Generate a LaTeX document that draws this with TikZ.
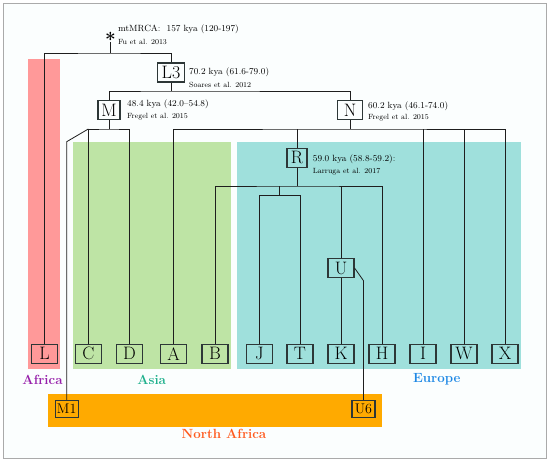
\documentclass[tikz,border=0pt]{standalone}
\usepackage{fontspec}
\definecolor{bgc}{RGB}{251,254,254}
\definecolor{framec}{RGB}{170,170,170}
\definecolor{africa}{RGB}{255,153,153}
\definecolor{asia}{RGB}{190,228,165}
\definecolor{europe}{RGB}{159,224,220}
\definecolor{nafrica}{RGB}{255,170,0}
\definecolor{africatxt}{RGB}{150,30,170}
\definecolor{asiatxt}{RGB}{30,176,140}
\definecolor{europetxt}{RGB}{30,136,229}
\definecolor{nafricatxt}{RGB}{255,90,30}
\definecolor{linec}{RGB}{30,30,30}
\definecolor{boxc}{RGB}{45,55,55}
\tikzset{
  hbox/.style={draw=boxc, line width=1.1pt, inner sep=0pt, minimum height=19pt,
     minimum width=26pt, font=\fontsize{18}{18}\selectfont},
  sbox/.style={draw=boxc, line width=1.1pt, inner sep=0pt, minimum height=17pt,
     minimum width=23pt, font=\fontsize{14}{14}\selectfont},
  big/.style={anchor=west, inner sep=0pt, font=\fontsize{9}{9}\selectfont},
  small/.style={anchor=west, inner sep=0pt, font=\fontsize{7.5}{7.5}\selectfont},
  region/.style={inner sep=0pt, font=\fontsize{13.3}{13.3}\selectfont\bfseries},
  starnode/.style={inner sep=0pt, anchor=north, font=\fontsize{19}{19}\selectfont\bfseries},
  tree/.style={draw=linec, line width=0.8pt}
}
\begin{document}
\begin{tikzpicture}[x=1pt,y=-1pt]
\useasboundingbox (0,0) rectangle (550,462);
\fill[white] (0,0) rectangle (550,462);
\draw[framec, line width=1.2pt, fill=bgc] (3.3,3.3) rectangle (546.5,458.5);
% regions
\fill[africa] (28.3,59.3) rectangle (60,369.3);
\fill[asia] (72.7,141.7) rectangle (230.7,369.3);
\fill[europe] (236.7,141.7) rectangle (521,369.3);
\fill[nafrica] (47.7,394) rectangle (382.3,426.7);
% region labels
\node[region, text=africatxt] (tafrica) at (42.5,379.5) {Africa};
\node[region, text=asiatxt] (tasia) at (151.7,379.5) {Asia};
\node[region, text=europetxt] (teurope) at (436.7,379.5) {Europe};
\node[region, text=nafricatxt] (tnafrica) at (224,434) {North Africa};
% internal nodes
\node[starnode] (star) at (110.5,32.5) {*};
\coordinate (starfoot) at (110.5,42);
\node[hbox, minimum width=27pt] (L3) at (171,72.5) {L3};
\node[hbox, minimum width=22pt] (M) at (109,110.3) {M};
\node[hbox, minimum width=25pt] (N) at (350,110.3) {N};
\node[hbox, minimum width=20pt] (R) at (297,157.7) {R};
\node[hbox, minimum width=26pt] (U) at (341,268) {U};
% leaves
\node[hbox] (L) at (44.5,353.7) {L};
\node[hbox] (C) at (88.3,353.7) {C};
\node[hbox] (D) at (129.5,353.7) {D};
\node[hbox] (A) at (173.5,353.7) {A};
\node[hbox] (B) at (215,353.7) {B};
\node[hbox] (J) at (259.3,353.7) {J};
\node[hbox] (T) at (300,353.7) {T};
\node[hbox] (K) at (341,353.7) {K};
\node[hbox] (H) at (382,353.7) {H};
\node[hbox] (I) at (423,353.7) {I};
\node[hbox] (W) at (464,353.7) {W};
\node[hbox] (X) at (505,353.7) {X};
\node[sbox] (M1) at (66.7,409) {M1};
\node[sbox] (U6) at (363.5,409) {U6};
% labels
\node[big] (lmrca) at (118,29.5) {mtMRCA:~~157 kya (120-197)};
\node[small] (lfu) at (118,41.8) {Fu et al. 2013};
\node[big] (lL3) at (189,72) {70.2 kya (61.6-79.0)};
\node[small] (sL3) at (189,85) {Soares et al. 2012};
\node[big] (lM) at (127,104.3) {48.4 kya (42.0--54.8)};
\node[small] (sM) at (127,117) {Fregel et al. 2015};
\node[big] (lN) at (368,106) {60.2 kya (46.1-74.0)};
\node[small] (sN) at (368,118) {Fregel et al. 2015};
\node[big] (lR) at (312.7,159) {59.0 kya (58.8-59.2):};
\node[small] (sR) at (312.7,171.7) {Larruga et al. 2017};
% junctions
\coordinate (j0) at (110.5,53);
\coordinate (j1) at (171,91);
\coordinate (j2) at (109,129);
\coordinate (j3) at (350,129);
\coordinate (j4) at (297,186);
\coordinate (jt) at (279.7,195.7);
\coordinate (m1bend) at (66.7,141.7);
\coordinate (ubend) at (363.5,280.7);
% connectors
\draw[tree] (starfoot) -- (j0);
\draw[tree] (L.north) |- (j0) -| (L3.north);
\draw[tree] (L3.south) -- (j1);
\draw[tree] (M.north) |- (j1) -| (N.north);
\draw[tree] (M.south) -- (j2);
\draw[tree] (C.north) |- (j2) -| (D.north);
\draw[tree] (M1.north) -- (m1bend) -- (C.north |- j2);
\draw[tree] (N.south) -- (j3);
\draw[tree] (A.north) |- (j3) -| (X.north);
\draw[tree] (R.north) -- (R.north |- j3);
\draw[tree] (I.north) -- (I.north |- j3);
\draw[tree] (W.north) -- (W.north |- j3);
\draw[tree] (R.south) -- (j4);
\draw[tree] (B.north) |- (j4) -| (H.north);
\draw[tree] (jt) -- (jt |- j4);
\draw[tree] (J.north) |- (jt) -| (T.north);
\draw[tree] (U.north) -- (U.north |- j4);
\draw[tree] (U.south) -- (K.north);
\draw[tree] (U.east) -- (ubend) -- (U6.north);
\end{tikzpicture}
\end{document}
